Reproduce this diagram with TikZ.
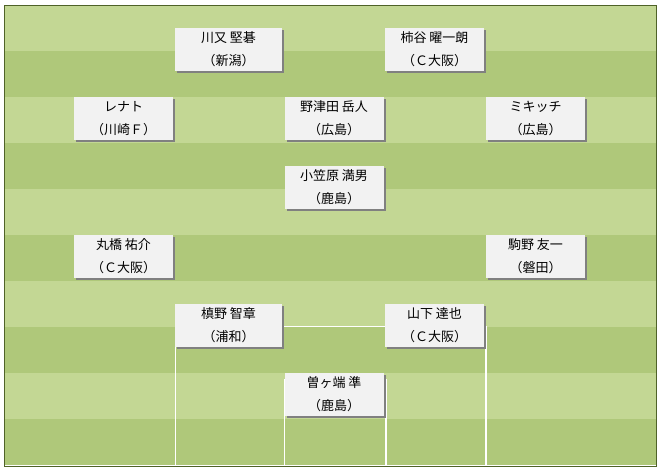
\documentclass[tikz,border=0pt]{standalone}
\usepackage{fontspec}
\newfontfamily\jpfont{Noto Sans CJK JP}
\usetikzlibrary{shadows}
\definecolor{lightturf}{HTML}{C3D794}
\definecolor{darkturf}{HTML}{AFC87A}
\definecolor{fieldedge}{HTML}{4F6228}
\definecolor{boxgray}{HTML}{F2F2F2}
\definecolor{shadowgray}{HTML}{808080}
\tikzset{
  player/.style={rectangle, fill=boxgray, inner sep=0pt, minimum width=99pt, minimum height=43pt,
    align=center, text=black, font=\jpfont\fontsize{13}{23}\selectfont,
    drop shadow={shadow xshift=2pt, shadow yshift=-2pt, fill=shadowgray, opacity=1}},
  wideplayer/.style={player, minimum width=107pt},
  pitchline/.style={draw=white, line width=1.4pt}
}
\begin{document}
\begin{tikzpicture}[x=1pt, y=-1pt]
\useasboundingbox (0,0) rectangle (661,471);
% turf stripes
\foreach \i in {0,...,9} {
  \pgfmathtruncatemacro{\odd}{mod(\i,2)}
  \ifnum\odd=0
    \fill[lightturf] (4,{5+46*\i}) rectangle (656,{5+46*(\i+1)});
  \else
    \fill[darkturf] (4,{5+46*\i}) rectangle (656,{5+46*(\i+1)});
  \fi
}
\draw[fieldedge, line width=1pt] (4,5) rectangle (656,466);
% pitch markings
\draw[pitchline] (175.5,466) -- (175.5,326.5) -- (486,326.5) -- (486,466);
\draw[pitchline] (284.5,466) -- (284.5,380) -- (386,380) -- (386,466);
% players
\node[wideplayer] (kawamata) at (228.5,49.5) {川又 堅碁\\（新潟）};
\node[player] (kakitani) at (434.5,49.5) {柿谷 曜一朗\\（Ｃ大阪）};
\node[player] (renato) at (123.5,118.5) {レナト\\（川崎Ｆ）};
\node[player] (notsuda) at (334,118.5) {野津田 岳人\\（広島）};
\node[player] (mikic) at (535.5,118.5) {ミキッチ\\（広島）};
\node[player] (ogasawara) at (334,187.5) {小笠原 満男\\（鹿島）};
\node[player] (maruhashi) at (123.5,256.5) {丸橋 祐介\\（Ｃ大阪）};
\node[player] (komano) at (535.5,256.5) {駒野 友一\\（磐田）};
\node[wideplayer] (makino) at (228.5,325.5) {槙野 智章\\（浦和）};
\node[player] (yamashita) at (434.5,325.5) {山下 達也\\（Ｃ大阪）};
\node[player] (sogahata) at (334,394.5) {曽ヶ端 準\\（鹿島）};
\end{tikzpicture}
\end{document}
